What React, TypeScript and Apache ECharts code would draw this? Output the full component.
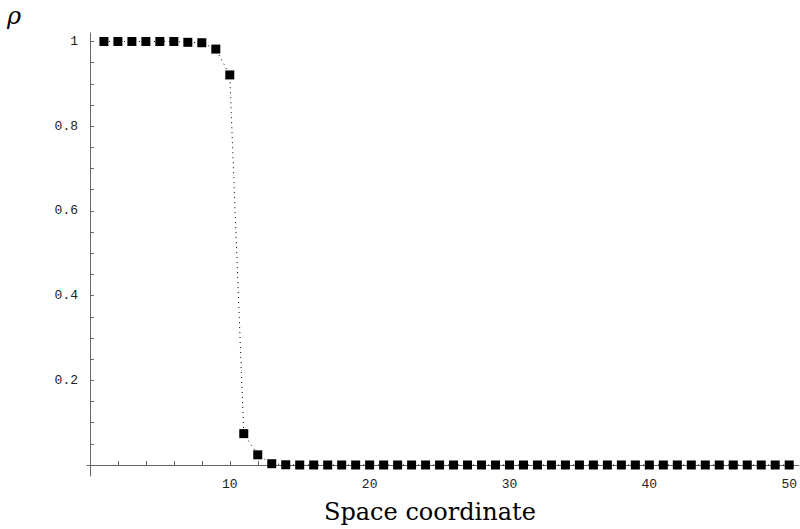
import React, { useEffect, useRef } from "react";
import * as echarts from "echarts";

const rhoValues = [
  1, 1, 1, 1, 1, 1, 0.998, 0.997, 0.982, 0.921,
  0.074, 0.024, 0.003, 0.0005, 0, 0, 0, 0, 0, 0,
  0, 0, 0, 0, 0, 0, 0, 0, 0, 0,
  0, 0, 0, 0, 0, 0, 0, 0, 0, 0,
  0, 0, 0, 0, 0, 0, 0, 0, 0, 0,
];
const xTickValues = [0, 2, 4, 6, 8, 10, 12, 14, 16, 18, 20, 22, 24, 26, 28, 30, 32, 34, 36, 38, 40, 42, 44, 46, 48, 50];
const xLabelValues = [10, 20, 30, 40, 50];
const yTickValues = [0.05, 0.1, 0.15, 0.2, 0.25, 0.3, 0.35, 0.4, 0.45, 0.5, 0.55, 0.6, 0.65, 0.7, 0.75, 0.8, 0.85, 0.9, 0.95, 1];
const yLabelValues = [0.2, 0.4, 0.6, 0.8, 1];
const xTitle = "Space coordinate";
const yTitle = "ρ";

export default function App() {
  const ref = useRef<HTMLDivElement>(null);
  useEffect(() => {
    if (!ref.current) return;
    const chart = echarts.init(ref.current, null, { renderer: "svg" });
    const seriesData = rhoValues.map((v, i) => [i + 1, v]);
    const mono = "Liberation Mono";
    chart.setOption({
      animation: false,
      backgroundColor: "#ffffff",
      grid: { left: 87, right: 0, top: 33, bottom: 53, containLabel: false },
      xAxis: {
        type: "value",
        min: -0.21,
        max: 50.7,
        axisLine: { show: true, onZero: true, lineStyle: { color: "#666", width: 1 } },
        axisTick: { show: true, inside: true, length: 4, customValues: xTickValues, lineStyle: { color: "#666" } },
        axisLabel: {
          show: true,
          customValues: xLabelValues,
          margin: 2,
          color: "#222",
          fontFamily: mono,
          fontSize: 13,
          formatter: (v: number) => String(v),
        },
        splitLine: { show: false },
      },
      yAxis: {
        type: "value",
        min: -0.026,
        max: 1.02,
        axisLine: { show: true, onZero: true, lineStyle: { color: "#666", width: 1 } },
        axisTick: { show: true, inside: true, length: 4, customValues: yTickValues, lineStyle: { color: "#666" } },
        axisLabel: {
          show: true,
          customValues: yLabelValues,
          margin: 9,
          color: "#222",
          fontFamily: mono,
          fontSize: 13,
          formatter: (v: number) => String(v),
        },
        splitLine: { show: false },
      },
      graphic: [
        {
          type: "text",
          left: 324,
          top: 500,
          style: { text: xTitle, font: "24px 'DejaVu Serif'", fill: "#000" },
        },
        {
          type: "text",
          left: 7,
          top: 4,
          style: { text: yTitle, font: "italic 24px 'DejaVu Serif'", fill: "#000" },
        },
      ],
      series: [
        {
          type: "line",
          data: seriesData,
          symbol: "rect",
          symbolSize: 9,
          itemStyle: { color: "#000" },
          lineStyle: { color: "#000", width: 1, type: [1, 4] },
        },
      ],
    });
    return () => chart.dispose();
  }, []);
  return <div ref={ref} style={{ width: 800, height: 529, position: "absolute", left: 0, top: 0 }} />;
}
